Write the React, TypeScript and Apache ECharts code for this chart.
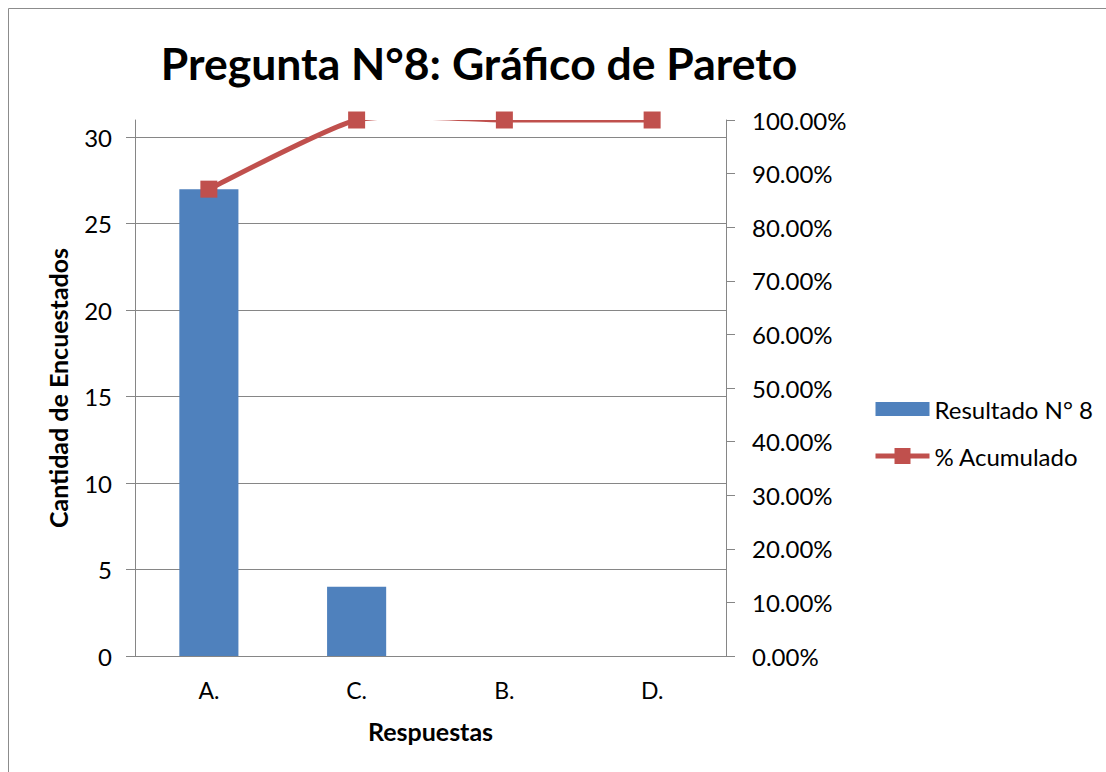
import React, { useEffect, useRef } from "react";
import * as echarts from "echarts";

const titleText = "Pregunta N°8: Gráfico de Pareto";
const categories = ["A.", "C.", "B.", "D."];
const resultado = [27, 4, 0, 0];
const acumulado = [0.871, 1, 1, 1];
const leftTicks = [0, 5, 10, 15, 20, 25, 30];
const leftMax = 31;
const rightMax = 1;
const barName = "Resultado N° 8";
const lineName = "% Acumulado";
const xName = "Respuestas";
const yName = "Cantidad de Encuestados";

const FONT = "Lato";
const GRAY = "#868686";
const BLUE = "#4F81BD";
const RED = "#C0504D";

export default function App() {
  const ref = useRef<HTMLDivElement>(null);
  useEffect(() => {
    if (!ref.current) return;
    const chart = echarts.init(ref.current, undefined, { renderer: "svg" });
    const k = 0.1;
    chart.setOption({
      animation: false,
      backgroundColor: "#ffffff",
      textStyle: { fontFamily: FONT, color: "#000" },
      graphic: [
        {
          type: "rect",
          shape: { x: 8.5, y: 8.5, width: 1300, height: 1000 },
          style: { fill: "none", stroke: "#8c8c8c", lineWidth: 1 },
          silent: true,
          z: -10,
        },
        {
          type: "text",
          x: 479,
          y: 62,
          style: {
            text: titleText,
            fontFamily: FONT,
            fontWeight: "bold",
            fontSize: 44.5,
            fill: "#000",
            textAlign: "center",
            textVerticalAlign: "middle",
          },
        },
      ],
      grid: { left: 135, right: 380, top: 120, bottom: 116, containLabel: false },
      legend: {
        orient: "vertical",
        left: 868,
        top: 392,
        itemWidth: 54,
        itemHeight: 20,
        itemGap: 23,
        textStyle: { fontFamily: FONT, fontSize: 24, color: "#000" },
        data: [
          {
            name: barName,
            icon: "path://M0,0h54v0.01h-54z M0,3h54v14h-54z M0,19.99h54v0.01h-54z",
          },
          {
            name: lineName,
            lineStyle: { color: RED, width: 5, opacity: 1 },
            itemStyle: { color: RED },
          },
        ],
      },
      xAxis: {
        type: "category",
        data: categories,
        name: xName,
        nameLocation: "middle",
        nameGap: 62,
        nameTextStyle: { fontFamily: FONT, fontWeight: "bold", fontSize: 25, color: "#000" },
        axisLine: { lineStyle: { color: GRAY, width: 1 } },
        axisTick: { show: false },
        axisLabel: { fontFamily: FONT, fontSize: 23, color: "#000", margin: 22 },
        splitLine: { show: false },
      },
      yAxis: [
        {
          type: "value",
          min: 0,
          max: leftMax,
          interval: 5,
          name: yName,
          nameLocation: "middle",
          nameRotate: 90,
          nameGap: 65,
          nameTextStyle: { fontFamily: FONT, fontWeight: "bold", fontSize: 25, color: "#000" },
          axisLine: { show: true, lineStyle: { color: GRAY, width: 1 } },
          axisTick: { show: true, length: 9, lineStyle: { color: GRAY }, customValues: leftTicks },
          axisLabel: {
            fontFamily: FONT,
            fontSize: 24,
            color: "#000",
            margin: 23,
            customValues: leftTicks,
          },
          splitLine: { show: true, lineStyle: { color: GRAY, width: 1 } },
        },
        {
          type: "value",
          min: 0,
          max: rightMax,
          interval: 0.1,
          position: "right",
          axisLine: { show: true, lineStyle: { color: GRAY, width: 1 } },
          axisTick: { show: true, length: 9, lineStyle: { color: GRAY } },
          axisLabel: {
            fontFamily: FONT,
            fontSize: 24,
            color: "#000",
            margin: 26,
            formatter: (v: number) => (v * 100).toFixed(2) + "%",
          },
          splitLine: { show: false },
        },
      ],
      series: [
        {
          name: barName,
          type: "bar",
          data: resultado,
          barWidth: "40%",
          itemStyle: { color: BLUE },
        },
        {
          name: "curve",
          type: "custom",
          xAxisIndex: 0,
          yAxisIndex: 1,
          clip: true,
          silent: true,
          data: acumulado.map((v, i) => [i, v]),
          encode: { x: 0, y: 1 },
          renderItem: (params: any, api: any) => {
            if (params.dataIndex !== 0) return null;
            const pts = acumulado.map((v, i) => api.coord([i, v]));
            const children: any[] = [];
            for (let i = 0; i < pts.length - 1; i++) {
              const p0 = pts[i - 1] || pts[i];
              const p1 = pts[i];
              const p2 = pts[i + 1];
              const p3 = pts[i + 2] || pts[i + 1];
              children.push({
                type: "bezierCurve",
                shape: {
                  x1: p1[0],
                  y1: p1[1],
                  x2: p2[0],
                  y2: p2[1],
                  cpx1: p1[0] + (p2[0] - p0[0]) * k,
                  cpy1: p1[1] + (p2[1] - p0[1]) * k,
                  cpx2: p2[0] - (p3[0] - p1[0]) * k,
                  cpy2: p2[1] - (p3[1] - p1[1]) * k,
                },
                style: { stroke: RED, lineWidth: 5, fill: "none" },
              });
            }
            return { type: "group", children };
          },
        },
        {
          name: lineName,
          type: "line",
          yAxisIndex: 1,
          data: acumulado,
          clip: false,
          symbol: "rect",
          symbolSize: 17,
          showSymbol: true,
          lineStyle: { color: RED, width: 5, opacity: 0 },
          itemStyle: { color: RED },
          z: 5,
        },
      ],
    });
    return () => chart.dispose();
  }, []);
  return (
    <div
      ref={ref}
      style={{ position: "absolute", left: 0, top: 0, width: 1106, height: 772 }}
    />
  );
}
